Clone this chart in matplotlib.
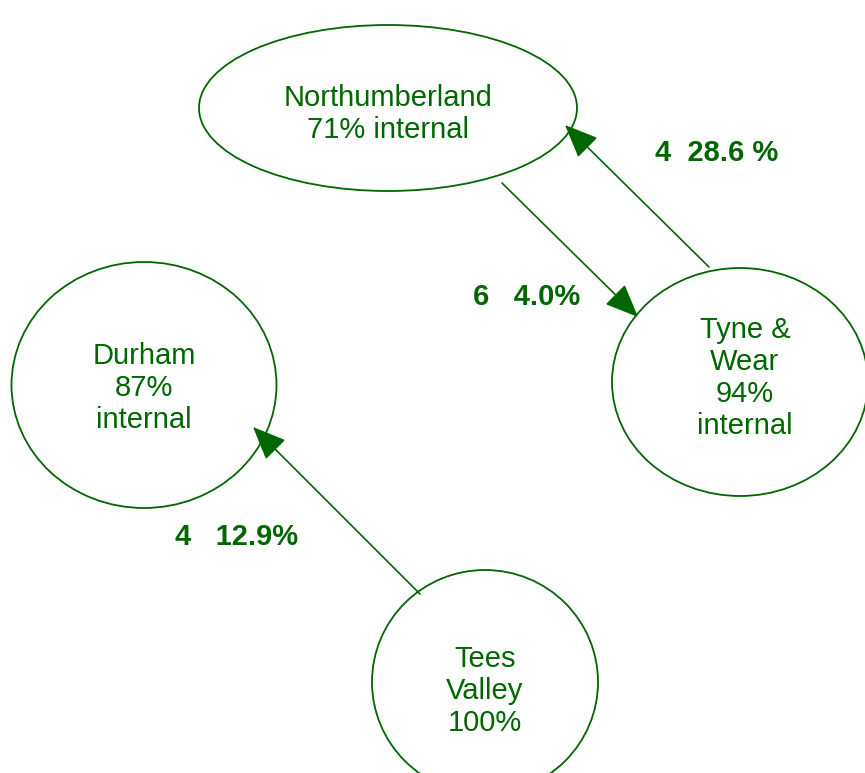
import matplotlib
matplotlib.use("Agg")
import matplotlib.pyplot as plt
from matplotlib.patches import Ellipse, FancyArrowPatch

plt.rcParams['font.family'] = ['Liberation Sans', 'DejaVu Sans']

GREEN = '#006600'

# Regions and their internal percentages
regions = ['Northumberland', 'Durham', 'Tyne &\nWear', 'Tees\nValley']
region_text = ['Northumberland\n71% internal', 'Durham\n87%\ninternal',
               'Tyne &\nWear\n94%\ninternal', 'Tees\nValley\n100%']
internal_pct = [71, 87, 94, 100]

# Flows between regions: (from, to), count, percentage
flow_from = ['Northumberland', 'Tyne & Wear', 'Tees Valley']
flow_to = ['Tyne & Wear', 'Northumberland', 'Durham']
flow_count = [6, 4, 4]
flow_pct_labels = ['6   4.0%', '4  28.6 %', '4   12.9%']

# layout (pixel positions)
centers = [(388, 108), (144, 385), (740, 382), (485, 682)]
sizes = [(378, 166), (265, 246), (256, 228), (226, 224)]
text_pos = [(388, 114), (144, 388), (745, 378), (485, 691)]
arrows = [((502, 183), (638, 317)), ((709, 267), (565, 125)), ((420, 594), (253, 427))]
label_pos = [(527, 297), (717, 153), (237, 537)]

fig = plt.figure(figsize=(8.65, 7.73), dpi=100)
ax = fig.add_axes([0, 0, 1, 1])
ax.set_xlim(0, 865)
ax.set_ylim(773, 0)
ax.axis('off')

for (cx, cy), (w, h), txt, (tx, ty) in zip(centers, sizes, region_text, text_pos):
    ax.add_patch(Ellipse((cx, cy), w, h, fill=False, edgecolor=GREEN, lw=1.3))
    ax.text(tx, ty, txt, color=GREEN, fontsize=21, ha='center', va='center',
            linespacing=1.18)

for (start, end), lab, (lx, ly) in zip(arrows, flow_pct_labels, label_pos):
    ax.add_patch(FancyArrowPatch(start, end, arrowstyle='-|>,head_length=1.3,head_width=0.55',
                                 mutation_scale=16, color=GREEN, lw=1.2,
                                 shrinkA=0, shrinkB=0))
    ax.text(lx, ly, lab, color=GREEN, fontsize=21, fontweight='bold',
            ha='center', va='center')

fig.savefig('out.png', dpi=100)
